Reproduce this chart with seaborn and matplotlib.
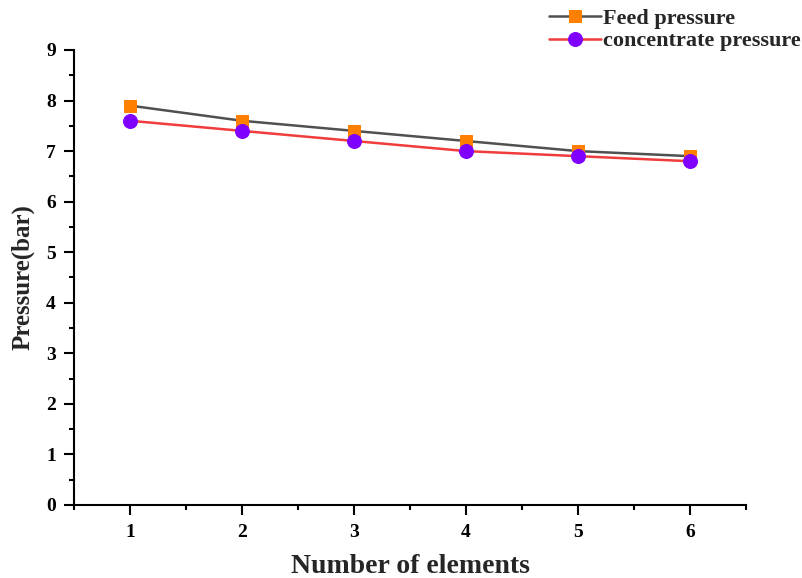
import matplotlib
matplotlib.use("Agg")
import matplotlib.pyplot as plt
import seaborn as sns
import pandas as pd
from matplotlib.ticker import MultipleLocator

elements = [1, 2, 3, 4, 5, 6]
feed_pressure = [7.9, 7.6, 7.4, 7.2, 7.0, 6.9]
concentrate_pressure = [7.6, 7.4, 7.2, 7.0, 6.9, 6.8]

df = pd.DataFrame({
    "elements": elements,
    "feed": feed_pressure,
    "concentrate": concentrate_pressure,
})

sns.set_theme(style="ticks")
plt.rcParams["font.family"] = ["Liberation Serif", "DejaVu Serif"]
plt.rcParams["font.weight"] = "bold"

fig = plt.figure(figsize=(8.03, 5.78), dpi=100)
ax = fig.add_axes([0.0922, 0.1263, 0.8368, 0.7872])

sns.lineplot(data=df, x="elements", y="feed", ax=ax, color="#505050", lw=1.8,
             marker="s", markersize=9, markerfacecolor="#FF8000",
             markeredgecolor="#FF8000", label="Feed pressure")
sns.lineplot(data=df, x="elements", y="concentrate", ax=ax, color="#F03C3C", lw=1.8,
             marker="o", markersize=10, markerfacecolor="#8000FF",
             markeredgecolor="#8000FF", label="concentrate pressure")

ax.set_xlim(0.5, 6.5)
ax.set_ylim(0, 9)
ax.xaxis.set_major_locator(MultipleLocator(1))
ax.xaxis.set_minor_locator(MultipleLocator(0.5))
ax.yaxis.set_major_locator(MultipleLocator(1))
ax.yaxis.set_minor_locator(MultipleLocator(0.5))
ax.tick_params(which="major", direction="out", length=7, width=1.5, labelsize=14,
               color="black", labelcolor="black")
ax.tick_params(axis="x", which="major", pad=7)
ax.tick_params(axis="y", which="major", pad=6)
ax.tick_params(which="minor", direction="out", length=3.8, width=1.5, color="black")
for lbl in ax.get_xticklabels() + ax.get_yticklabels():
    lbl.set_fontweight("bold")

for side in ["top", "right"]:
    ax.spines[side].set_visible(False)
for side in ["left", "bottom"]:
    ax.spines[side].set_linewidth(1.5)
    ax.spines[side].set_color("black")

ax.set_xlabel("Number of elements", fontsize=20, fontweight="bold", labelpad=9)
ax.set_ylabel("Pressure(bar)", fontsize=18, fontweight="bold", labelpad=8)

leg = ax.legend(loc="upper right", bbox_to_anchor=(1.0, 0.99), bbox_transform=fig.transFigure,
                frameon=False, handlelength=2.35, handletextpad=0.1,
                labelspacing=0.1, borderaxespad=0.0, borderpad=0.1,
                prop={"weight": "bold", "size": 16})

fig.savefig("out.png", dpi=100)
